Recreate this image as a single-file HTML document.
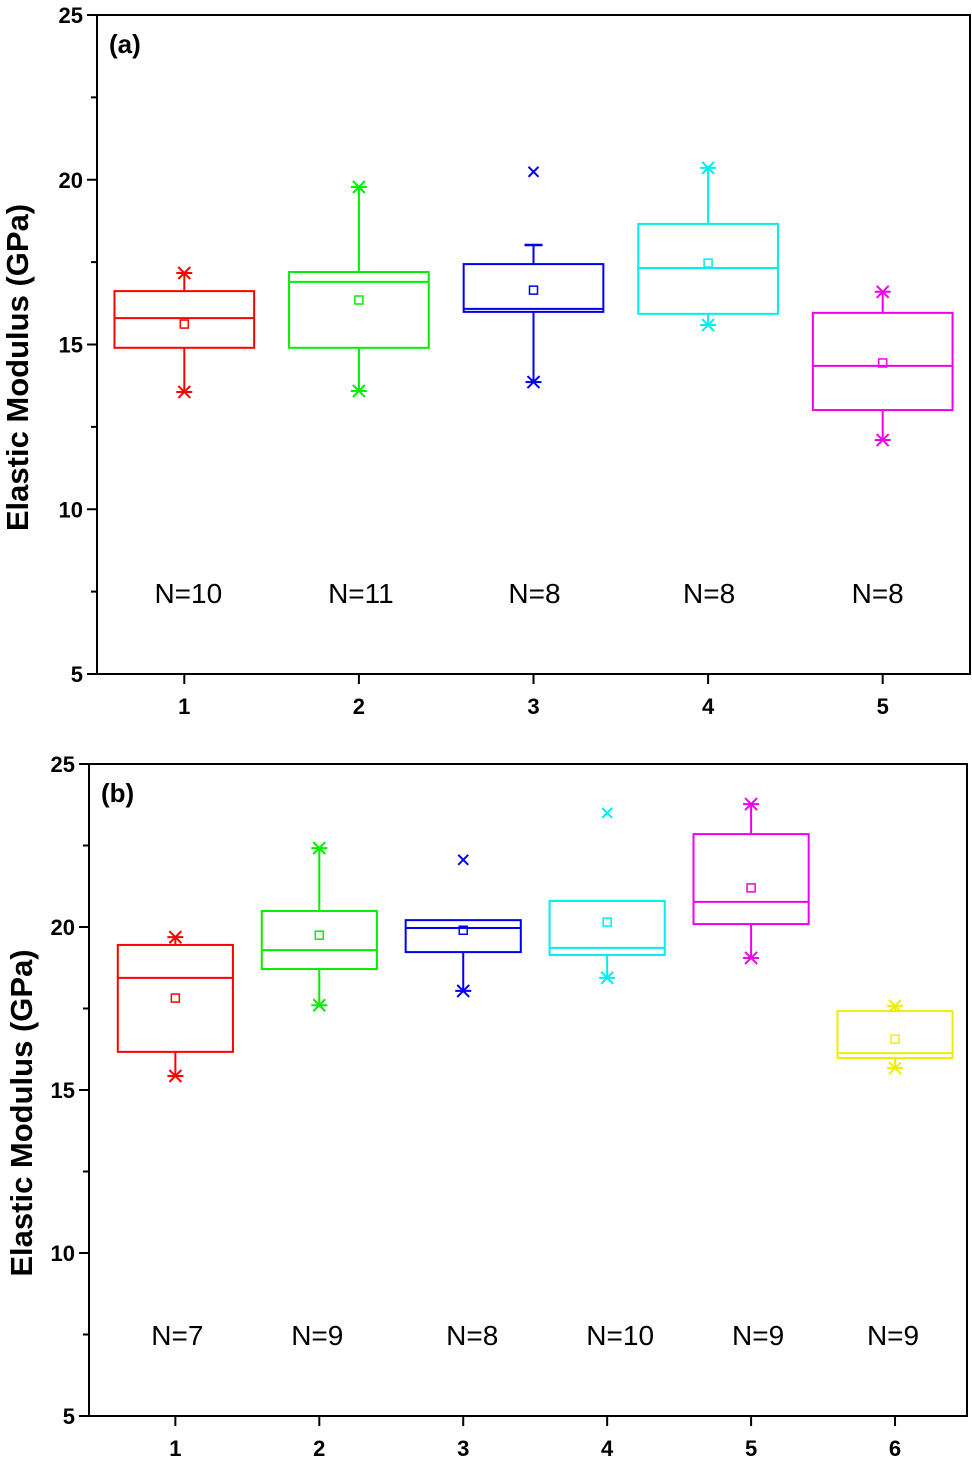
<!DOCTYPE html>
<html><head><meta charset="utf-8"><style>
html,body{margin:0;padding:0;background:#fff;}
svg{display:block;font-family:"Liberation Sans",Arial,sans-serif;}
</style></head><body>
<svg id="chart" width="972" height="1468" viewBox="0 0 972 1468"></svg>
<script>
// Panel (a) data
const catsA = [1,2,3,4,5];
const colorsA = ["#ff0000","#00ee00","#0000ee","#00eeee","#ee00ee"];
const q3A = [16.62,17.2,17.44,18.66,15.96];
const q1A = [14.9,14.9,15.99,15.93,13.01];
const medA = [15.8,16.9,16.08,17.32,14.35];
const meanA = [15.62,16.35,16.65,17.47,14.44];
const maxA = [17.17,19.78,18.02,20.36,16.6];
const maxStarA = [true,true,false,true,true];
const minA = [13.56,13.59,13.86,15.59,12.1];
const outA = [null,null,20.24,null,null];
const nA = ["N=10","N=11","N=8","N=8","N=8"];
// Panel (b) data
const catsB = [1,2,3,4,5,6];
const colorsB = ["#ff0000","#00ee00","#0000ee","#00eeee","#ee00ee","#eeee00"];
const q3B = [19.45,20.49,20.21,20.8,22.85,17.42];
const q1B = [16.17,18.71,19.23,19.14,20.09,15.98];
const medB = [18.44,19.29,19.97,19.36,20.77,16.13];
const meanB = [17.82,19.75,19.9,20.15,21.2,16.56];
const maxB = [19.69,22.42,null,null,23.77,17.58];
const minB = [15.43,17.6,18.04,18.44,19.05,15.67];
const outB = [null,null,22.06,23.5,null,null];
const nB = ["N=7","N=9","N=8","N=10","N=9","N=9"];
const yTicks = [5,10,15,20,25];

const NS="http://www.w3.org/2000/svg";
const svg=document.getElementById('chart');
function mk(tag,attrs,parent){const e=document.createElementNS(NS,tag);for(const k in attrs)e.setAttribute(k,attrs[k]);(parent||svg).appendChild(e);return e;}

function panel(o){
  const g=mk('g',{});
  
  
  const X=v=>o.L+(v-o.xmin)/(o.xmax-o.xmin)*(o.R-o.L);
  const Y=v=>o.B-(v-5)/20*(o.B-o.T);
  const frame=mk('rect',{x:o.L,y:o.T,width:o.R-o.L,height:o.B-o.T,fill:'none',stroke:'#000','stroke-width':2},g);
  
  
  for(let v=5;v<=25;v+=2.5){
    const major=(v%5===0);
    mk('line',{x1:o.L,x2:o.L-(major?10:6),y1:Y(v),y2:Y(v),stroke:'#000','stroke-width':2},g);
  }
  yTicks.forEach(v=>{
    const t=mk('text',{x:o.L-14,y:Y(v)+8,'text-anchor':'end','font-size':22,'font-weight':'bold'},g);
    t.textContent=v;
    
    
  });
  o.cats.forEach(c=>{
    mk('line',{x1:X(c),x2:X(c),y1:o.B,y2:o.B+10,stroke:'#000','stroke-width':2},g);
    const t=mk('text',{x:X(c),y:o.B+40,'text-anchor':'middle','font-size':22,'font-weight':'bold'},g);
    t.textContent=c;
    
    
  });
  const yt=mk('text',{x:0,y:0,'text-anchor':'middle','font-size':31,'font-weight':'bold',transform:`translate(${o.titleX},${(o.T+o.B)/2+23}) rotate(-90)`},g);
  yt.textContent='Elastic Modulus (GPa)';
  
  
  const pl=mk('text',{x:o.L+12,y:o.T+38,'font-size':26,'font-weight':'bold'},g);
  pl.textContent=o.label;
  
  
  const hw=0.4*(X(2)-X(1));
  o.cats.forEach((c,i)=>{
    const col=o.colors[i],cx=X(c);
    const bg=mk('g',{stroke:col,fill:'none','stroke-width':2},g);
    
    
    const topW=o.max[i]!=null?o.max[i]:o.q3[i];
    mk('line',{x1:cx,x2:cx,y1:Y(topW),y2:Y(o.q3[i])},bg);
    mk('line',{x1:cx,x2:cx,y1:Y(o.q1[i]),y2:Y(o.min[i])},bg);
    mk('rect',{x:cx-hw,y:Y(o.q3[i]),width:2*hw,height:Y(o.q1[i])-Y(o.q3[i])},bg);
    mk('line',{x1:cx-hw,x2:cx+hw,y1:Y(o.med[i]),y2:Y(o.med[i])},bg);
    mk('rect',{x:cx-4,y:Y(o.mean[i])-4,width:8,height:8,'stroke-width':1.5},bg);
    const star=(v)=>{const y=Y(v);mk('line',{x1:cx-8,x2:cx+8,y1:y,y2:y},bg);mk('line',{x1:cx-6,x2:cx+6,y1:y-6,y2:y+6},bg);mk('line',{x1:cx-6,x2:cx+6,y1:y+6,y2:y-6},bg);};
    const cross=(v)=>{const y=Y(v);mk('line',{x1:cx-5,x2:cx+5,y1:y-5,y2:y+5},bg);mk('line',{x1:cx-5,x2:cx+5,y1:y+5,y2:y-5},bg);};
    if(o.max[i]!=null){ if(o.maxStar[i]) star(o.max[i]); else mk('line',{x1:cx-9,x2:cx+9,y1:Y(o.max[i]),y2:Y(o.max[i]),'stroke-width':2.5},bg); }
    star(o.min[i]);
    if(o.out[i]!=null) cross(o.out[i]);
    const nt=mk('text',{x:cx+o.nOff[i],y:o.nY,'text-anchor':'middle','font-size':28,fill:'#000'},g);
    nt.textContent=o.n[i];
    
    
  });
}
panel({name:'panel-a',L:97,R:970,T:15,B:674,xmin:0.5,xmax:5.5,cats:catsA,colors:colorsA,q3:q3A,q1:q1A,med:medA,mean:meanA,max:maxA,maxStar:maxStarA,min:minA,out:outA,n:nA,nOff:[4,2,1,1,-5],nY:603,label:'(a)',titleX:28});
panel({name:'panel-b',L:89,R:967,T:764,B:1416,xmin:0.4,xmax:6.5,cats:catsB,colors:colorsB,q3:q3B,q1:q1B,med:medB,mean:meanB,max:maxB,maxStar:[true,true,true,true,true,true],min:minB,out:outB,n:nB,nOff:[2,-2,9,13,7,-2],nY:1345,label:'(b)',titleX:32});
</script>
</body></html>
